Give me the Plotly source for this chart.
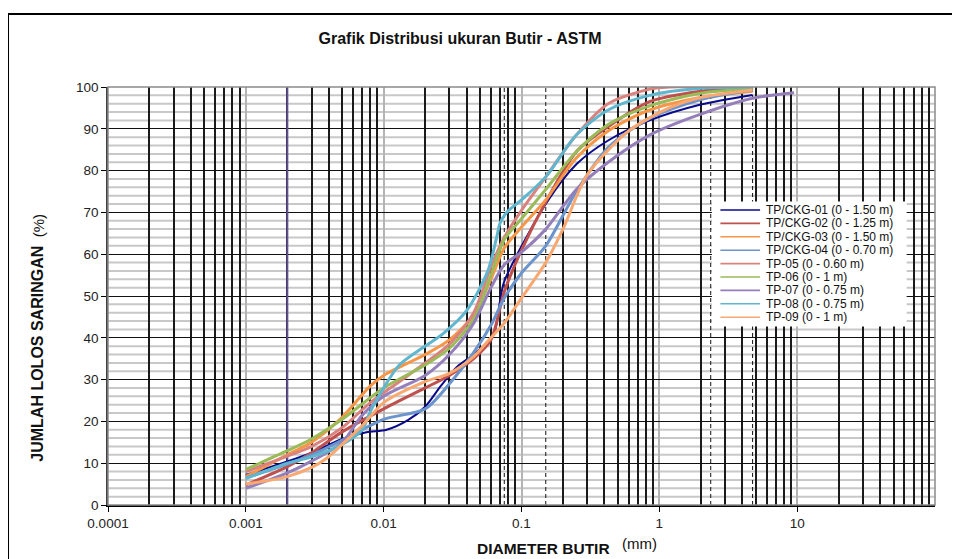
import plotly.graph_objects as go

# ---------------- data ----------------
series_names = [
    "TP/CKG-01 (0 - 1.50 m)",
    "TP/CKG-02 (0 - 1.25 m)",
    "TP/CKG-03 (0 - 1.50 m)",
    "TP/CKG-04 (0 - 0.70 m)",
    "TP-05 (0 - 0.60 m)",
    "TP-06 (0 - 1 m)",
    "TP-07 (0 - 0.75 m)",
    "TP-08 (0 - 0.75 m)",
    "TP-09 (0 - 1 m)",
]
series_colors = ["#0a0a8c", "#c0504d", "#f79646", "#6b93cc", "#d9827e",
                 "#9bbb59", "#957fbb", "#5fb6ce", "#f8a870"]
series_widths = [2, 3, 3, 3, 3, 3, 3, 3, 3]

diam_ckg01 = [4.75, 2.0, 0.85, 0.425, 0.25, 0.15, 0.075, 0.07, 0.063, 0.047, 0.034, 0.026, 0.02, 0.015, 0.0105, 0.0075, 0.005, 0.003, 0.002, 0.001]
pass_ckg01 = [98.1, 95.8, 92.0, 87.2, 81.5, 72.0, 53.5, 49.0, 41.0, 36.5, 33.0, 28.5, 23.5, 20.3, 18.0, 17.4, 15.8, 12.5, 10.4, 7.2]

diam_ckg02 = [4.75, 2.0, 0.85, 0.425, 0.25, 0.15, 0.1, 0.075, 0.06, 0.045, 0.03, 0.02, 0.01, 0.005, 0.003, 0.002, 0.001]
pass_ckg02 = [100, 99.0, 96.5, 90.5, 84.5, 72.5, 61.0, 51.0, 39.5, 35.0, 31.0, 28.0, 23.0, 17.5, 12.5, 9.2, 4.8]

diam_ckg03 = [4.75, 2.0, 0.85, 0.425, 0.25, 0.15, 0.1, 0.075, 0.06, 0.045, 0.03, 0.02, 0.01, 0.008, 0.005, 0.003, 0.002, 0.001]
pass_ckg03 = [99.0, 97.5, 94.5, 89.5, 83.0, 73.0, 66.5, 61.5, 54.0, 45.5, 39.5, 36.0, 31.0, 28.5, 21.0, 15.0, 12.0, 6.8]

diam_ckg04 = [4.75, 2.0, 0.85, 0.425, 0.25, 0.15, 0.1, 0.075, 0.06, 0.045, 0.03, 0.02, 0.01, 0.005, 0.003, 0.002, 0.001]
pass_ckg04 = [99.3, 97.0, 92.5, 85.5, 75.0, 62.0, 55.5, 49.5, 43.0, 36.5, 29.0, 23.0, 20.5, 15.5, 12.0, 9.8, 6.5]

diam_tp05 = [4.75, 2.0, 1.18, 0.85, 0.425, 0.25, 0.15, 0.1, 0.075, 0.06, 0.045, 0.03, 0.015, 0.008, 0.005, 0.003, 0.002, 0.001]
pass_tp05 = [100, 100, 100, 99.5, 96.0, 88.5, 78.5, 70.5, 64.0, 57.0, 46.0, 38.5, 31.0, 24.5, 18.5, 14.0, 11.7, 8.0]

diam_tp06 = [4.75, 2.0, 0.85, 0.425, 0.25, 0.15, 0.1, 0.075, 0.06, 0.045, 0.03, 0.02, 0.01, 0.005, 0.003, 0.002, 0.001]
pass_tp06 = [99.5, 98.5, 95.5, 91.0, 84.5, 75.5, 68.5, 63.5, 55.0, 44.5, 37.5, 33.5, 28.0, 20.5, 15.8, 13.0, 8.5]

diam_tp07 = [9.5, 4.75, 2.0, 0.85, 0.425, 0.25, 0.15, 0.1, 0.075, 0.06, 0.045, 0.03, 0.02, 0.01, 0.007, 0.005, 0.003, 0.002, 0.001]
pass_tp07 = [98.6, 97.3, 93.5, 88.5, 82.0, 75.5, 66.0, 60.5, 57.5, 52.0, 43.5, 36.0, 31.0, 26.0, 21.5, 15.0, 10.5, 7.7, 4.0]

diam_tp08 = [4.75, 2.0, 0.85, 0.425, 0.25, 0.15, 0.1, 0.078, 0.07, 0.066, 0.057, 0.04, 0.027, 0.013, 0.0094, 0.0079, 0.007, 0.005, 0.003, 0.002, 0.001]
pass_tp08 = [100, 99.7, 98.0, 94.5, 88.5, 78.5, 73.0, 70.0, 67.5, 64.0, 56.0, 46.5, 41.0, 33.5, 26.5, 22.0, 18.0, 14.5, 11.5, 10.0, 6.3]

diam_tp09 = [4.75, 2.0, 1.18, 0.6, 0.3, 0.2, 0.15, 0.1, 0.075, 0.06, 0.045, 0.03, 0.02, 0.01, 0.007, 0.005, 0.0038, 0.003, 0.002, 0.001]
pass_tp09 = [99.3, 97.5, 95.0, 89.5, 79.0, 66.0, 58.0, 49.5, 43.5, 40.0, 35.5, 31.5, 29.5, 24.5, 19.0, 14.5, 11.0, 9.0, 6.8, 5.0]

all_diams = [diam_ckg01, diam_ckg02, diam_ckg03, diam_ckg04, diam_tp05,
             diam_tp06, diam_tp07, diam_tp08, diam_tp09]
all_pass = [pass_ckg01, pass_ckg02, pass_ckg03, pass_ckg04, pass_tp05,
            pass_tp06, pass_tp07, pass_tp08, pass_tp09]

sieve_sizes_mm = [0.075, 0.15, 0.6, 2.36, 4.75]
clay_limit_mm = [0.002]

x_tick_vals = [0.0001, 0.001, 0.01, 0.1, 1, 10]
x_tick_text = ["0.0001", "0.001", "0.01", "0.1", "1", "10"]

# ---------------- figure ----------------
fig = go.Figure()

for s in sieve_sizes_mm:
    fig.add_trace(go.Scatter(x=[s, s], y=[0, 100], mode="lines",
                             line=dict(color="#111111", width=1, dash="4px,3px"),
                             showlegend=False, hoverinfo="skip"))
for s in clay_limit_mm:
    fig.add_trace(go.Scatter(x=[s, s], y=[0, 100], mode="lines",
                             line=dict(color="#5f5090", width=2),
                             showlegend=False, hoverinfo="skip"))

for name, d, v, c, w in zip(series_names, all_diams, all_pass, series_colors, series_widths):
    fig.add_trace(go.Scatter(x=d, y=v, mode="lines", name=name,
                             line=dict(color=c, width=w, shape="spline", smoothing=0.8),
                             showlegend=False))

minor_x = [m * 10.0 ** k for k in range(-4, 2) for m in range(2, 10)]
minor_y = [v for v in range(2, 100, 2) if v % 10 != 0]

base_font = "Liberation Sans, Arial, sans-serif"

fig.update_xaxes(
    type="log", range=[-4, 2],
    tickmode="array", tickvals=x_tick_vals, ticktext=x_tick_text,
    ticks="outside", ticklen=5, tickcolor="black",
    showgrid=True, gridcolor="#b4b4b4", gridwidth=2,
    minor=dict(tickmode="array", tickvals=minor_x, showgrid=True,
               gridcolor="#1a1a1a", gridwidth=1.5, ticks=""),
    showline=True, linecolor="black", linewidth=1.5,
    tickfont=dict(family=base_font, size=13.5, color="#222222"),
    zeroline=False,
)
fig.update_yaxes(
    range=[0, 100], dtick=10, tick0=0,
    ticks="outside", ticklen=5, tickcolor="black",
    showgrid=True, gridcolor="#111111", gridwidth=1.4,
    showline=True, linecolor="#404040", linewidth=1.5,
    tickfont=dict(family=base_font, size=13.5, color="#222222"),
    zeroline=False,
)

shapes = []
# light horizontal minor grid, drawn beneath the vertical grid lines
for v in minor_y:
    shapes.append(dict(type="line", xref="paper", yref="y", x0=0, x1=1, y0=v, y1=v,
                       line=dict(color="#c8c8c8", width=2), layer="below"))
# plot-area border (top/right grey)
shapes.append(dict(type="rect", xref="paper", yref="paper", x0=0, x1=1, y0=0, y1=1,
                   line=dict(color="#8a8a8a", width=1.5), layer="above"))
# outer chart frame
shapes.append(dict(type="rect", xref="paper", yref="paper",
                   x0=-0.1209, x1=1.06, y0=-0.2, y1=1.1746,
                   line=dict(color="black", width=2), layer="above"))

# custom legend
leg_x0, leg_x1 = 0.7303, 0.9657
leg_top, leg_bot = 0.7261, 0.4270
shapes.append(dict(type="rect", xref="paper", yref="paper",
                   x0=leg_x0, x1=leg_x1, y0=leg_bot, y1=leg_top,
                   fillcolor="white", line=dict(width=0), layer="above"))
annotations = []
row_h = 13.4 / 418.0
first_row = (505 - 210.0) / 418.0
for i, (name, c) in enumerate(zip(series_names, series_colors)):
    yy = first_row - i * row_h
    shapes.append(dict(type="line", xref="paper", yref="paper",
                       x0=0.7405, x1=0.7885, y0=yy, y1=yy,
                       line=dict(color=c, width=1.6), layer="above"))
    annotations.append(dict(xref="paper", yref="paper", x=0.7935, y=yy,
                            xanchor="left", yanchor="middle", showarrow=False,
                            text=name, font=dict(family=base_font, size=12, color="#111111")))

# axis titles
annotations.append(dict(xref="paper", yref="paper", x=0.526, y=-0.105,
                        xanchor="center", yanchor="middle", showarrow=False,
                        text="<b>DIAMETER BUTIR</b>",
                        font=dict(family=base_font, size=15.5, color="#111111")))
annotations.append(dict(xref="paper", yref="paper", x=0.643, y=-0.093,
                        xanchor="center", yanchor="middle", showarrow=False,
                        text="(mm)", font=dict(family=base_font, size=15, color="#111111")))
annotations.append(dict(xref="paper", yref="paper", x=-0.0846, y=0.362,
                        xanchor="center", yanchor="middle", showarrow=False, textangle=-90,
                        text="<b>JUMLAH LOLOS SARINGAN</b>",
                        font=dict(family=base_font, size=16, color="#111111")))
annotations.append(dict(xref="paper", yref="paper", x=-0.0846, y=0.667,
                        xanchor="center", yanchor="middle", showarrow=False, textangle=-90,
                        text="(%)", font=dict(family=base_font, size=15, color="#111111")))

fig.update_layout(
    width=952, height=551,
    margin=dict(l=100, r=25, t=79, b=54),
    paper_bgcolor="white", plot_bgcolor="white",
    title=dict(text="<b>Grafik Distribusi ukuran Butir - ASTM</b>",
               x=0.4748, y=0.9456, xanchor="center", yanchor="middle",
               font=dict(family=base_font, size=16, color="#111111")),
    shapes=shapes, annotations=annotations,
    showlegend=False,
)

fig.write_html("out.html")
